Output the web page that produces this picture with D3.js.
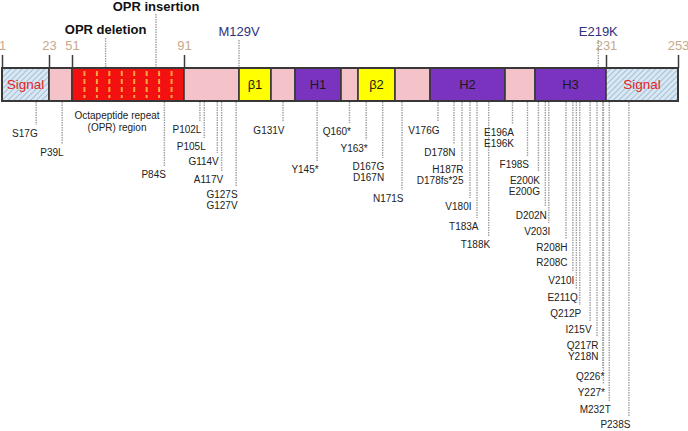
<!DOCTYPE html>
<html>
<head>
<meta charset="utf-8">
<script src="https://cdn.jsdelivr.net/npm/d3@7/dist/d3.min.js"></script>
<style>
  html, body { margin: 0; padding: 0; background: #fff; }
  svg { display: block; font-family: "Liberation Sans", Arial, sans-serif; }
</style>
</head>
<body>
<svg id="chart" width="688" height="431"></svg>
<script>
// ---------------- DATA ----------------
// Protein domains (residue ranges, schematic)
const domainNames = ["Signal", "", "OPR", "", "β1", "", "H1", "", "β2", "", "H2", "", "H3", "Signal"];
const domainStart = [1, 23, 51, 91, 129, 130, 132, 159, 161, 170, 175, 195, 199, 231];
const domainEnd   = [23, 51, 91, 129, 130, 132, 159, 161, 170, 175, 195, 199, 231, 253];
const domainKind  = ["signal", "linker", "opr", "linker", "strand", "linker", "helix", "linker",
                     "strand", "linker", "helix", "linker", "helix", "signal"];

// Residue numbers shown above the bar
const tickResidues = [1, 23, 51, 91, 231, 253];

// Annotations above the bar
const aboveLabels   = ["OPR insertion", "OPR deletion", "M129V", "E219K"];
const aboveResidues = [81, 63, 129, 219];
const aboveKind     = ["region", "region", "poly", "poly"];

// Mutations below the bar
const mutationResidues = [17, 39, 84, 102, 105, 114, 117, 127, 131, 145, 160, 163, 167, 171,
  176, 178, 178, 180, 183, 188, 196, 198, 200, 202, 203, 208, 210, 211, 212, 215, 217,
  226, 227, 232, 238];
const mutationLabels = [["S17G"], ["P39L"], ["P84S"], ["P102L"], ["P105L"], ["G114V"], ["A117V"],
  ["G127S", "G127V"], ["G131V"], ["Y145*"], ["Q160*"], ["Y163*"], ["D167G", "D167N"], ["N171S"],
  ["V176G"], ["D178N"], ["H187R", "D178fs*25"], ["V180I"], ["T183A"], ["T188K"],
  ["E196A", "E196K"], ["F198S"], ["E200K", "E200G"], ["D202N"], ["V203I"], ["R208H", "R208C"],
  ["V210I"], ["E211Q"], ["Q212P"], ["I215V"], ["Q217R", "Y218N"], ["Q226*"], ["Y227*"],
  ["M232T"], ["P238S"]];

const oprRegionText = ["Octapeptide repeat", "(OPR) region"];

// ---------------- LAYOUT ----------------
const barTop = 68, barH = 33;
// schematic (non-linear) residue axis: knots residue -> px
const knotResidue = [1, 23, 51, 91, 129, 130, 132, 159, 161, 170, 175, 180, 195, 199, 217, 231, 253];
const knotPx      = [2, 49, 72, 184, 239, 271, 295, 341, 358, 395, 430, 470, 505, 535, 597, 606, 678];
// label rows (vertical centre of each text line) for the mutation call-outs
const labelRows = [[133], [152], [174], [129], [146], [161], [179], [194, 205], [130], [169],
  [131], [148], [166, 177], [198], [130], [152], [169, 180], [206], [226], [244],
  [132, 143], [164], [180, 191], [215], [231], [247, 262], [280], [297], [313], [329],
  [345, 356], [376], [392], [409], [424]];
const aboveRowY = { "OPR insertion": 6, "OPR deletion": 29, "M129V": 31, "E219K": 31 };
const aboveLineTop = { "OPR insertion": 14, "OPR deletion": 38, "M129V": 40, "E219K": 40 };
const sameResidueSpread = 8;
const oprTextX = 117, oprTextY = [115, 127];

const colors = {
  linker: "#f4c3c9", opr: "#f21010", strand: "#ffff00", helix: "#7a33bf",
  signalBg: "#d9e7f3", signalHatch: "#86a9c9", signalText: "#e3241d",
  border: "#383838", tickText: "#c7a98b", poly: "#30307c", callout: "#a0a0a0", text: "#222"
};

// ---------------- DRAW ----------------
const svg = d3.select("#chart");
const x = d3.scaleLinear().domain(knotResidue).range(knotPx);

const defs = svg.append("defs");
const pat = defs.append("pattern").attr("id", "hatch").attr("patternUnits", "userSpaceOnUse")
  .attr("width", 4).attr("height", 4).attr("patternTransform", "rotate(45)");
pat.append("rect").attr("width", 4).attr("height", 4).attr("fill", colors.signalBg);
pat.append("line").attr("x1", 0).attr("y1", 0).attr("x2", 0).attr("y2", 4)
  .attr("stroke", colors.signalHatch).attr("stroke-width", 1.3);

// residue ticks above bar
const axis = d3.axisTop(x).tickValues(tickResidues).tickSize(13).tickPadding(5).tickFormat(d3.format("d"));
const gAxis = svg.append("g").attr("transform", `translate(0,${barTop})`).call(axis);
gAxis.select(".domain").remove();
gAxis.selectAll(".tick line").attr("stroke", "#3c3c3c").attr("stroke-width", 1.5);
gAxis.selectAll(".tick text").attr("fill", colors.tickText).attr("font-size", 13)
  .attr("font-family", "Liberation Sans, Arial, sans-serif");

// above annotations
const above = aboveLabels.map((t, i) => ({ t, r: aboveResidues[i], k: aboveKind[i] }));
const gAbove = svg.append("g");
gAbove.selectAll("line").data(above).join("line")
  .attr("x1", d => x(d.r)).attr("x2", d => x(d.r))
  .attr("y1", d => aboveLineTop[d.t]).attr("y2", barTop)
  .attr("stroke", colors.callout).attr("stroke-width", 1.4).attr("stroke-dasharray", "1.5,1");
gAbove.selectAll("text").data(above).join("text")
  .attr("x", d => x(d.r)).attr("y", d => aboveRowY[d.t])
  .attr("dy", "0.35em").attr("text-anchor", "middle")
  .attr("font-size", 13)
  .attr("font-weight", d => d.k === "region" ? "bold" : "normal")
  .attr("fill", d => d.k === "region" ? "#111" : colors.poly)
  .text(d => d.t);

// domain bar
const domains = domainNames.map((n, i) => ({ n, s: domainStart[i], e: domainEnd[i], k: domainKind[i] }));
const gBar = svg.append("g");
gBar.selectAll("rect").data(domains).join("rect")
  .attr("x", d => x(d.s)).attr("y", barTop)
  .attr("width", d => x(d.e) - x(d.s)).attr("height", barH)
  .attr("fill", d => d.k === "signal" ? "url(#hatch)" : colors[d.k])
  .attr("stroke", colors.border).attr("stroke-width", 1.6);

// OPR repeat dividers
const opr = domains.find(d => d.k === "opr");
const ox0 = x(opr.s), ox1 = x(opr.e);
gBar.selectAll("line.rep").data(d3.range(1, 9)).join("line").attr("class", "rep")
  .attr("x1", k => ox0 + k * (ox1 - ox0) / 9).attr("x2", k => ox0 + k * (ox1 - ox0) / 9)
  .attr("y1", barTop + 3).attr("y2", barTop + barH - 3)
  .attr("stroke", "#f6a53e").attr("stroke-width", 2).attr("stroke-dasharray", "5,3");

// outer frame
gBar.append("rect").attr("x", x(1)).attr("y", barTop)
  .attr("width", x(253) - x(1)).attr("height", barH)
  .attr("fill", "none").attr("stroke", colors.border).attr("stroke-width", 2);

gBar.selectAll("text").data(domains.filter(d => d.n && d.k !== "opr")).join("text")
  .attr("x", d => (x(d.s) + x(d.e)) / 2).attr("y", barTop + barH / 2)
  .attr("dy", "0.35em").attr("text-anchor", "middle")
  .attr("font-size", d => d.k === "signal" ? 13.5 : 13)
  .attr("fill", d => d.k === "signal" ? colors.signalText : "#1a1a1a")
  .text(d => d.n);

// OPR region text
svg.append("g").selectAll("text").data(oprRegionText).join("text")
  .attr("x", oprTextX).attr("y", (d, i) => oprTextY[i]).attr("dy", "0.35em")
  .attr("text-anchor", "middle").attr("font-size", 10).attr("fill", colors.text)
  .text(d => d);

// mutation call-outs
const seen = {};
const muts = mutationResidues.map((r, i) => {
  const c = seen[r] || 0; seen[r] = c + 1;
  return { r, labels: mutationLabels[i], rows: labelRows[i], xp: x(r) + c * sameResidueSpread };
});
const gMut = svg.append("g");
gMut.selectAll("line").data(muts).join("line")
  .attr("x1", d => d.xp).attr("x2", d => d.xp)
  .attr("y1", barTop + barH + 1).attr("y2", d => d.rows[0] - 8)
  .attr("stroke", colors.callout).attr("stroke-width", 1.4).attr("stroke-dasharray", "1.5,1");
const mg = gMut.selectAll("g.m").data(muts).join("g").attr("class", "m");
mg.selectAll("text").data(d => d.labels.map((t, j) => ({ t, y: d.rows[j], xp: d.xp }))).join("text")
  .attr("x", d => d.xp + 1.5).attr("y", d => d.y).attr("dy", "0.35em")
  .attr("text-anchor", "end").attr("font-size", 10).attr("fill", colors.text)
  .text(d => d.t);
</script>
</body>
</html>
